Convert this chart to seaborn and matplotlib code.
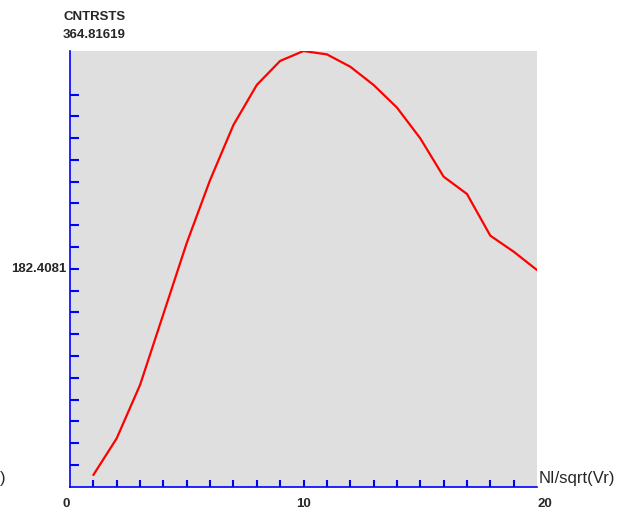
import matplotlib
matplotlib.use("Agg")
import matplotlib.pyplot as plt
import numpy as np
import pandas as pd
import seaborn as sns

# Series: CNTRSTS against NI/sqrt(Vr)
ni_sqrt_vr = [1, 2, 3, 4, 5, 6, 7, 8, 9, 10,
              11, 12, 13, 14, 15, 16, 17, 18, 19, 20]
cntrsts = [9.8, 40.5, 85.2, 144.6, 204.1, 256.8, 302.9, 336.4, 356.5, 364.81619,
           362.0, 351.7, 336.4, 317.5, 291.7, 259.6, 245.1, 210.2, 196.8, 181.4]

y_max = 364.81619
y_mid_label = "182.4081"
y_top_label = "364.81619"
x_tick_labels = ["0", "10", "20"]
y_name = "CNTRSTS"
x_name = "NI/sqrt(Vr)"

sns.set_style("white")
plt.rcParams["font.family"] = ["Liberation Sans", "DejaVu Sans"]

df = pd.DataFrame({"x": ni_sqrt_vr, "y": cntrsts})

fig = plt.figure(figsize=(6.24, 5.11), dpi=100)
W, H = 624, 511
left, right, top, bottom = 70, 537, 51, 486.7
ax = fig.add_axes([left / W, 1 - bottom / H, (right - left) / W, (bottom - top) / H])
ax.set_facecolor("#dfdfdf")

sns.lineplot(data=df, x="x", y="y", ax=ax, color="red", linewidth=1.6)

ax.set_xlim(0, 20)
ax.set_ylim(0, y_max)
ax.set_xlabel("")
ax.set_ylabel("")

for side in ("top", "right"):
    ax.spines[side].set_visible(False)
for side in ("left", "bottom"):
    ax.spines[side].set_color("blue")
    ax.spines[side].set_linewidth(1.2)

ax.set_xticks(np.arange(1, 20))
ax.set_yticks([y_max / 20 * k for k in range(1, 19)])
ax.tick_params(axis="both", direction="in", colors="blue", width=1.5,
               bottom=True, left=True, top=False, right=False,
               labelleft=False, labelbottom=False)
ax.tick_params(axis="y", length=6.5)
ax.tick_params(axis="x", length=4.8)

# text labels
fs = 9.5
fig.text(63 / W, 1 - 17 / H, y_name, fontsize=fs, fontweight="bold", ha="left", va="center")
fig.text(63 / W, 1 - 35 / H, y_top_label, fontsize=fs, fontweight="bold", ha="left", va="center")
ax.annotate(y_mid_label, xy=(0, y_max / 2), xycoords="data",
            xytext=(-4, 0), textcoords="offset pixels",
            ha="right", va="center", fontsize=fs, fontweight="bold")
ax.annotate(x_tick_labels[0], xy=(0, 0), xycoords="data",
            xytext=(-4, -17), textcoords="offset pixels",
            ha="center", va="center", fontsize=fs, fontweight="bold")
ax.annotate(x_tick_labels[1], xy=(10, 0), xycoords="data",
            xytext=(0, -17), textcoords="offset pixels",
            ha="center", va="center", fontsize=fs, fontweight="bold")
ax.annotate(x_tick_labels[2], xy=(20, 0), xycoords="data",
            xytext=(0, -17), textcoords="offset pixels",
            ha="left", va="center", fontsize=fs, fontweight="bold")
ax.annotate(x_name, xy=(20, 0), xycoords="data",
            xytext=(2, 8), textcoords="offset pixels",
            ha="left", va="center", fontsize=12)
fig.text(0 / W, 1 - 478 / H, ")", fontsize=12, ha="left", va="center")

fig.savefig("out.png", dpi=100)
